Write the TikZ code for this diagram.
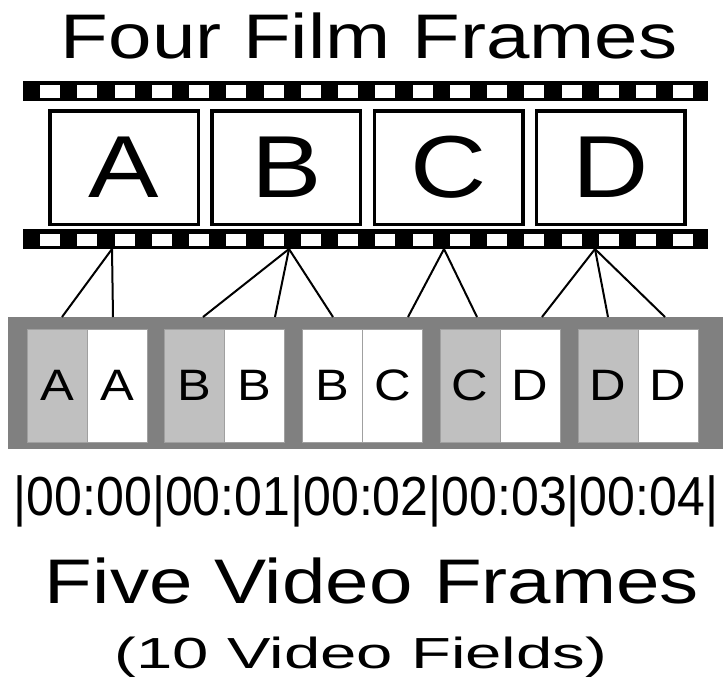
\documentclass[tikz,border=0pt]{standalone}
\usepackage{fontspec}
\setmainfont{Liberation Sans}
\newfontfamily\headfont[FakeStretch=1.24]{Liberation Sans}
\newfontfamily\notefont[FakeStretch=1.5]{Liberation Sans}
\newfontfamily\framefont[FakeStretch=1.2]{Liberation Sans}
\newfontfamily\fieldfont[FakeStretch=1.15]{Liberation Sans}
\newfontfamily\timefont[FakeStretch=0.91]{Liberation Sans}

\definecolor{boxgray}{HTML}{808080}
\definecolor{fieldgray}{HTML}{C0C0C0}
\definecolor{edgegray}{HTML}{A0A0A0}

\tikzset{
  filmframe/.style={draw, line width=3.5pt, minimum width=148.5pt, minimum height=113.5pt,
    inner sep=0pt, font=\framefont\fontsize{88}{88}\selectfont},
  field/.style={draw=edgegray, line width=1pt, minimum width=60pt, minimum height=113pt,
    inner sep=0pt, font=\fieldfont\fontsize{44}{44}\selectfont},
  link/.style={line width=2pt},
}

\begin{document}
\begin{tikzpicture}[x=1pt, y=-1pt]
  \useasboundingbox (0,0) rectangle (723,681);
  \node[anchor=base, inner sep=0pt, font=\headfont\fontsize{63}{63}\selectfont] (title) at (369,58) {Four Film Frames};
  % Film strip with sprocket holes
  \fill (23,81) rectangle (708,101);
  \fill (23,229) rectangle (708,249);
  \foreach \i in {0,...,17} {
    \fill[white] ({40+37.25*\i},85) rectangle ++(20,13);
    \fill[white] ({40+37.25*\i},234) rectangle ++(20,12);
  }
  \foreach \k/\l in {0/A,1/B,2/C,3/D}
    \node[filmframe] (film\l) at ({124+162.3*\k},167.5) {\l};
  % Video frames, two fields each
  \fill[boxgray] (8,317) rectangle (723,449);
  \foreach \k/\a/\b/\ca in {0/A/A/fieldgray, 1/B/B/fieldgray, 2/B/C/white, 3/C/D/fieldgray, 4/D/D/fieldgray} {
    \node[field, fill=\ca] (fa\k) at ({57+137.75*\k},385.5) {\a};
    \node[field, fill=white] (fb\k) at ({117+137.75*\k},385.5) {\b};
  }
  % Pulldown links
  \coordinate (sA) at (112,249);
  \coordinate (sB) at (289,249);
  \coordinate (sC) at (444,249);
  \coordinate (sD) at (595,249);
  \coordinate (tA1) at (62,317);
  \coordinate (tA2) at (113,317);
  \coordinate (tB1) at (203,317);
  \coordinate (tB2) at (275,317);
  \coordinate (tB3) at (333,317);
  \coordinate (tC1) at (408,317);
  \coordinate (tC2) at (477,317);
  \coordinate (tD1) at (542,317);
  \coordinate (tD2) at (608,317);
  \coordinate (tD3) at (665,317);
  \foreach \s/\t in {sA/tA1, sA/tA2, sB/tB1, sB/tB2, sB/tB3, sC/tC1, sC/tC2, sD/tD1, sD/tD2, sD/tD3}
    \draw[link] (\s) -- (\t);
  % Timecodes and captions
  \node[anchor=base, inner sep=0pt, font=\timefont\fontsize{55}{55}\selectfont] (time) at (366,515) {|00:00|00:01|00:02|00:03|00:04|};
  \node[anchor=base, inner sep=0pt, font=\headfont\fontsize{63}{63}\selectfont] (video) at (372,603) {Five Video Frames};
  \node[anchor=base, inner sep=0pt, font=\notefont\fontsize{43.5}{43.5}\selectfont] (fields) at (361,668) {(10 Video Fields)};
\end{tikzpicture}
\end{document}
